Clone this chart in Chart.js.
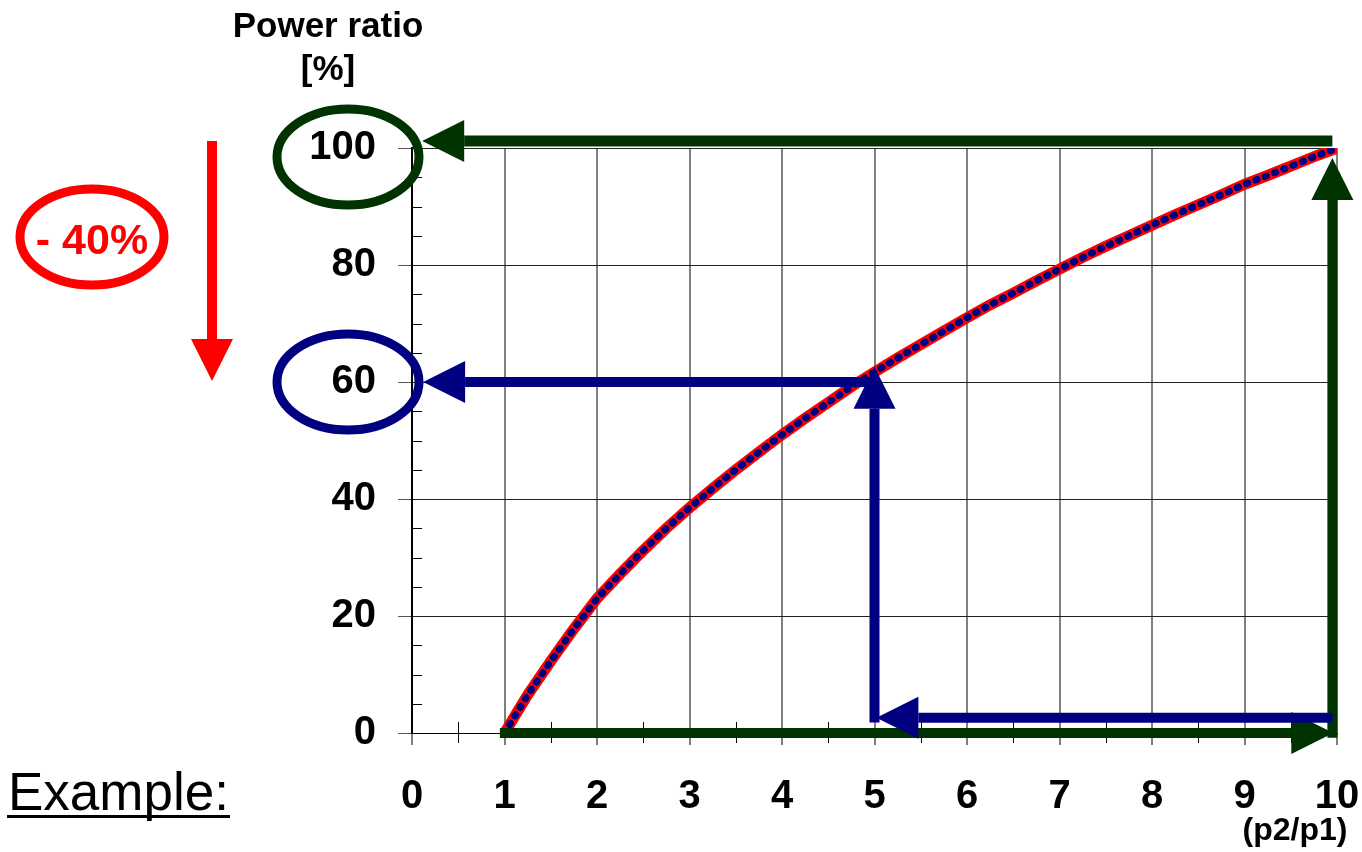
<!DOCTYPE html>
<html>
<head>
<meta charset="utf-8">
<title>Power ratio vs pressure ratio</title>
<script src="https://cdn.jsdelivr.net/npm/chart.js@4.4.1/dist/chart.umd.min.js"></script>
<style>
  html, body { margin: 0; padding: 0; background: #fff; }
  #wrap { width: 1362px; height: 852px; position: relative; }
</style>
</head>
<body>
<div id="wrap"><canvas id="powerChart"></canvas></div>
<script>
// pressure ratio p2/p1 and power ratio [%]
const pressureRatio = [1, 1.25, 1.5, 1.75, 2, 2.25, 2.5, 2.75, 3, 3.25, 3.5, 3.75, 4, 4.25, 4.5, 4.75,
  5, 5.25, 5.5, 5.75, 6, 6.25, 6.5, 6.75, 7, 7.25, 7.5, 7.75, 8, 8.25, 8.5, 8.75, 9, 9.25, 9.5, 9.75, 10];
const powerRatio = [0, 6.5, 12.3, 17.8, 23, 27.2, 31.2, 35, 38.5, 41.8, 45, 48, 51, 53.8, 56.5, 59.2,
  61.7, 64.1, 66.4, 68.7, 71, 73.2, 75.2, 77.3, 79.3, 81.3, 83.2, 85, 86.8, 88.6, 90.3, 92, 93.8, 95.3, 96.9, 98.5, 100];

const xTicks = [0, 1, 2, 3, 4, 5, 6, 7, 8, 9, 10];
const yTicks = [0, 20, 40, 60, 80, 100];
const xMinor = [0.5, 1.5, 2.5, 3.5, 4.5, 5.5, 6.5, 7.5, 8.5, 9.5];
const yMinor = [5, 10, 15, 25, 30, 35, 45, 50, 55, 65, 70, 75, 85, 90, 95];

// example arrows, in chart units: [x1, y1] -> tip [x2, y2]
const GREEN = '#003300';
const NAVY = '#000080';
const arrows = [
  { from: [0.95, 0], to: [9.96, 0], color: GREEN, width: 10 },
  { from: [9.95, -0.8], to: [9.95, 98.3], color: GREEN, width: 10 },
  { from: [9.95, 101.2], to: [0.11, 101.2], color: GREEN, width: 11 },
  { from: [9.95, 2.6], to: [5.02, 2.6], color: NAVY, width: 10 },
  { from: [5.0, 1.8], to: [5.0, 62.6], color: NAVY, width: 10 },
  { from: [5.0, 60], to: [0.12, 60], color: NAVY, width: 10 }
];

const FONT = 'Arial, "Liberation Sans", Helvetica, sans-serif';

function drawArrow(ctx, x1, y1, x2, y2, color, width, headLen = 42, headHalf = 21) {
  const ang = Math.atan2(y2 - y1, x2 - x1);
  const bx = x2 - headLen * Math.cos(ang);
  const by = y2 - headLen * Math.sin(ang);
  ctx.save();
  ctx.strokeStyle = color;
  ctx.fillStyle = color;
  ctx.lineWidth = width;
  ctx.lineCap = 'butt';
  ctx.beginPath();
  ctx.moveTo(x1, y1);
  ctx.lineTo(bx, by);
  ctx.stroke();
  ctx.beginPath();
  ctx.moveTo(x2, y2);
  ctx.lineTo(bx + headHalf * Math.sin(ang), by - headHalf * Math.cos(ang));
  ctx.lineTo(bx - headHalf * Math.sin(ang), by + headHalf * Math.cos(ang));
  ctx.closePath();
  ctx.fill();
  ctx.restore();
}

function ellipse(ctx, cx, cy, rx, ry, color, width) {
  ctx.save();
  ctx.strokeStyle = color;
  ctx.lineWidth = width;
  ctx.beginPath();
  ctx.ellipse(cx, cy, rx, ry, 0, 0, Math.PI * 2);
  ctx.stroke();
  ctx.restore();
}

// minor ticks on both axes
const minorTicks = {
  id: 'minorTicks',
  beforeDatasetsDraw(chart) {
    const { ctx, scales: { x, y }, chartArea } = chart;
    ctx.save();
    ctx.strokeStyle = '#000';
    ctx.lineWidth = 1;
    ctx.beginPath();
    yMinor.forEach(v => {
      const py = Math.round(y.getPixelForValue(v)) + 0.5;
      ctx.moveTo(chartArea.left, py);
      ctx.lineTo(chartArea.left + 10, py);
    });
    xMinor.forEach(v => {
      const px = Math.round(x.getPixelForValue(v)) + 0.5;
      ctx.moveTo(px, chartArea.bottom - 11);
      ctx.lineTo(px, chartArea.bottom + 10);
    });
    ctx.stroke();
    ctx.restore();
  }
};

// arrows, circles and texts of the worked example
const exampleMarks = {
  id: 'exampleMarks',
  afterDraw(chart) {
    const { ctx, scales: { x, y }, chartArea } = chart;

    arrows.forEach(a => drawArrow(ctx,
      x.getPixelForValue(a.from[0]), y.getPixelForValue(a.from[1]),
      x.getPixelForValue(a.to[0]), y.getPixelForValue(a.to[1]),
      a.color, a.width));

    const ex = chartArea.left - 64;
    ellipse(ctx, ex, y.getPixelForValue(100) + 9, 71, 48, GREEN, 9);
    ellipse(ctx, ex, y.getPixelForValue(60), 71, 48, NAVY, 9);

    // red "- 40%" note
    ellipse(ctx, 92, 237, 72, 48, '#ff0000', 9);
    ctx.save();
    ctx.fillStyle = '#ff0000';
    ctx.font = 'bold 43px ' + FONT;
    ctx.textAlign = 'center';
    ctx.textBaseline = 'alphabetic';
    ctx.fillText('- 40%', 92, 254);
    ctx.restore();
    drawArrow(ctx, 212, 141, 212, 381, '#ff0000', 10, 42, 21);

    ctx.save();
    ctx.fillStyle = '#000';
    ctx.textAlign = 'center';
    ctx.font = 'bold 35px ' + FONT;
    ctx.fillText('Power ratio', 328, 37);
    ctx.fillText('[%]', 328, 80);
    ctx.font = 'bold 32px ' + FONT;
    ctx.fillText('(p2/p1)', 1295, 840);

    ctx.textAlign = 'left';
    ctx.font = '53px ' + FONT;
    ctx.fillText('Example:', 8, 810);
    ctx.fillRect(7, 815, 223, 3);
    ctx.restore();
  }
};

new Chart(document.getElementById('powerChart'), {
  type: 'line',
  data: {
    labels: pressureRatio,
    datasets: [
      {
        label: 'dots',
        data: pressureRatio.map((p, i) => ({ x: p, y: powerRatio[i] })),
        borderColor: NAVY,
        borderWidth: 7,
        borderDash: [1.5, 8.5],
        borderCapStyle: 'round',
        pointRadius: 0,
        tension: 0,
        order: 0
      },
      {
        label: 'Power ratio',
        data: pressureRatio.map((p, i) => ({ x: p, y: powerRatio[i] })),
        borderColor: '#ff0000',
        borderWidth: 11,
        pointRadius: 0,
        tension: 0,
        order: 1
      }
    ]
  },
  options: {
    responsive: true,
    maintainAspectRatio: false,
    animation: false,
    layout: { padding: 0 },
    plugins: {
      legend: { display: false },
      tooltip: { enabled: false },
      title: { display: false }
    },
    scales: {
      x: {
        type: 'linear',
        min: 0,
        max: 10,
        afterBuildTicks: s => { s.ticks = xTicks.map(v => ({ value: v })); },
        afterFit: s => { s.height = 119; s.paddingRight = 25; s.paddingLeft = 0; },
        ticks: {
          color: '#000',
          font: { family: FONT, size: 40, weight: 'bold' },
          padding: 28,
          maxRotation: 0
        },
        grid: {
          color: '#808080',
          lineWidth: 2,
          tickLength: 12,
          tickColor: '#000',
          tickWidth: 1
        },
        border: { display: true, color: '#000', width: 1 }
      },
      y: {
        type: 'linear',
        min: 0,
        max: 100,
        afterBuildTicks: s => { s.ticks = yTicks.map(v => ({ value: v })); },
        afterFit: s => { s.width = 412; s.paddingTop = 148; s.paddingBottom = 0; },
        ticks: {
          color: '#000',
          font: { family: FONT, size: 40, weight: 'bold' },
          padding: 22
        },
        grid: {
          color: '#222',
          lineWidth: 1,
          tickLength: 14,
          tickColor: '#555',
          tickWidth: 1
        },
        border: { display: true, color: '#000', width: 2 }
      }
    }
  },
  plugins: [minorTicks, exampleMarks]
});
</script>
</body>
</html>
